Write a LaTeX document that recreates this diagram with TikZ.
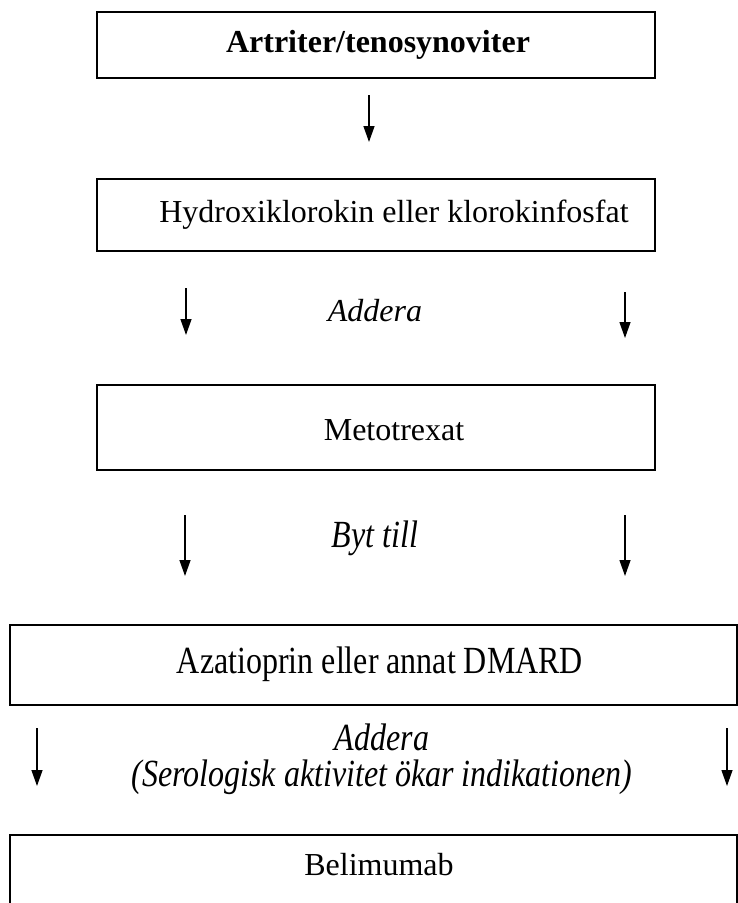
\documentclass[tikz,border=0pt]{standalone}
\usepackage{graphicx}
\usepackage{fontspec}
\setmainfont{Liberation Serif}
\usetikzlibrary{positioning,calc,arrows.meta}

\newcommand{\flowfont}{\fontsize{32}{37}\selectfont}
\newcommand{\tallt}[1]{\scalebox{1}[1.2]{#1}}

\tikzset{
  stepbox/.style={draw, line width=1.2pt, inner sep=0pt},
  boxtext/.style={font=\flowfont, inner sep=0pt},
  flowarrow/.style={line width=1.3pt, -{Triangle[length=16pt,width=11pt]}},
  notetext/.style={font=\flowfont\itshape, align=center, inner sep=0pt}
}

\begin{document}
\begin{tikzpicture}[x=1pt,y=-1pt]
    \useasboundingbox (0,0) rectangle (738,903);
    \clip (0,0) rectangle (738,903);

    % Boxes
    \node[stepbox, minimum width=558pt, minimum height=66pt] (artr) at (376,45) {};
    \node[stepbox, minimum width=558pt, minimum height=72pt] (hydr) at (376,215) {};
    \node[stepbox, minimum width=558pt, minimum height=85pt] (meto) at (376,427.5) {};
    \node[stepbox, minimum width=727pt, minimum height=80pt] (azat) at (373.5,665) {};
    \node[stepbox, minimum width=727pt, minimum height=90pt] (beli) at (373.5,880) {};

    % Box texts
    \node[boxtext] (artrtxt) at (378,45) {\bfseries Artriter/tenosynoviter};
    \node[boxtext] (hydrtxt) at (394,215) {Hydroxiklorokin eller klorokinfosfat};
    \node[boxtext] (metotxt) at (394,430) {Metotrexat};
    \node[boxtext] (azattxt) at (380,664) {\tallt{Azatioprin eller annat DMARD}};
    \node[boxtext] (belitxt) at (379,865) {Belimumab};

    % Arrow end points
    \coordinate (a1s) at (369,95);   \coordinate (a1e) at (369,142);
    \coordinate (a2s) at (186,288);  \coordinate (a2e) at (186,335);
    \coordinate (a3s) at (625,292);  \coordinate (a3e) at (625,338);
    \coordinate (a4s) at (185,515);  \coordinate (a4e) at (185,576);
    \coordinate (a5s) at (625,515);  \coordinate (a5e) at (625,576);
    \coordinate (a6s) at (37,728);   \coordinate (a6e) at (37,786);
    \coordinate (a7s) at (727,728);  \coordinate (a7e) at (727,786);

    \draw[flowarrow] (a1s) -- (a1e);
    \draw[flowarrow] (a2s) -- (a2e);
    \draw[flowarrow] (a3s) -- (a3e);
    \draw[flowarrow] (a4s) -- (a4e);
    \draw[flowarrow] (a5s) -- (a5e);
    \draw[flowarrow] (a6s) -- (a6e);
    \draw[flowarrow] (a7s) -- (a7e);

    % Labels
    \node[notetext] (add1) at (375,311) {Addera};
    \node[notetext] (byt) at (375,538) {\tallt{Byt till}};
    \node[notetext] (add2) at (382,759) {\tallt{Addera}\\[-1pt]\tallt{(Serologisk aktivitet ökar indikationen)}};
\end{tikzpicture}
\end{document}
